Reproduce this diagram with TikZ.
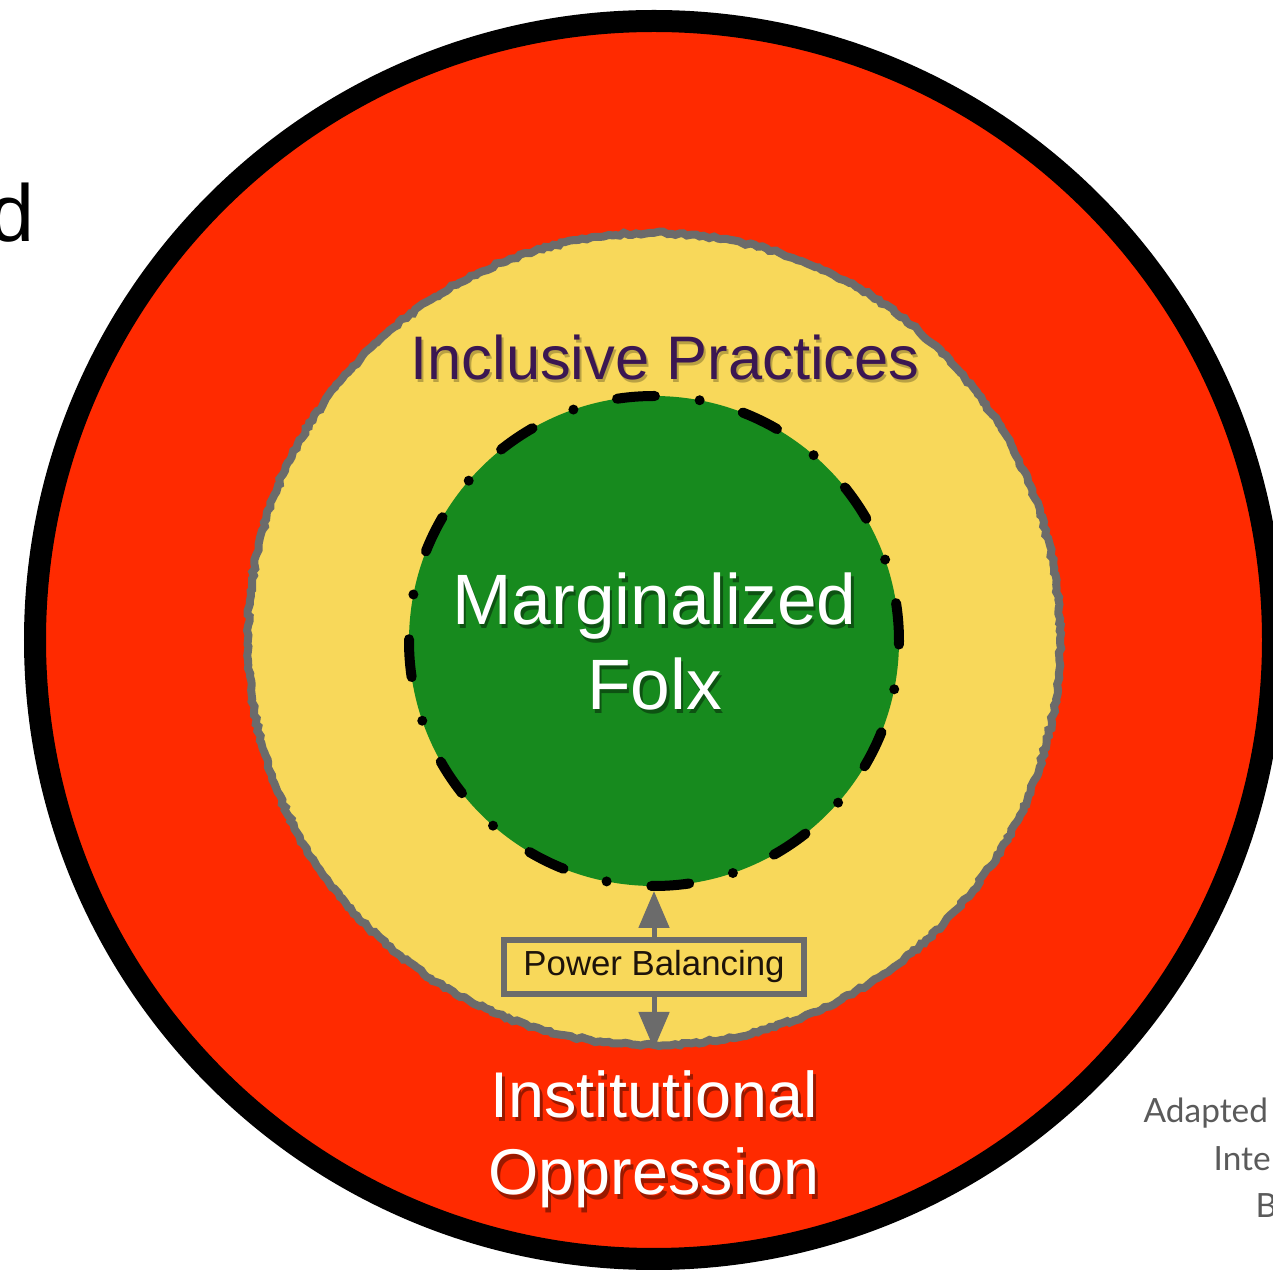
\documentclass[tikz,border=0pt]{standalone}
\usepackage{fontspec}
\setmainfont{Liberation Sans}
\newfontfamily\notefont{Lato}
\usetikzlibrary{arrows.meta,decorations.pathmorphing}

\definecolor{ringred}{HTML}{FF2A00}
\definecolor{ringyellow}{HTML}{F8D85A}
\definecolor{ringgreen}{HTML}{178A1E}
\definecolor{ringgrey}{HTML}{6B6B6B}
\definecolor{incpurple}{HTML}{3B1752}
\definecolor{notegrey}{HTML}{5A5A5A}

\tikzset{
	ringlabel/.style={anchor=base, inner sep=0},
	labelshadow/.style={anchor=base, inner sep=0, text=black, opacity=0.4},
	pbarrow/.style={draw=ringgrey, line width=0.5mm, -{Triangle[width=3mm,length=3.7mm]}},
}

\begin{document}
\begin{tikzpicture}
		%%%%% START %%%%%
		\useasboundingbox (0,0) rectangle (12.73,12.75);
		\clip (0,0) rectangle (12.73,12.75);
		
		% outer ring
		\draw[line width=2.2mm, fill=ringred] (6.54, 6.35) circle (6.19);
		
		% middle and inner discs
		\node[circle, minimum size=8.12cm, inner sep=0, fill=ringyellow, draw=ringgrey, line width=0.8mm,
			decorate, decoration={random steps, segment length=1.2pt, amplitude=0.4pt}] (incl) at (6.54, 6.36) {};
		\node[circle, minimum size=4.9cm, inner sep=0, fill=ringgreen, draw=black, line width=1mm, line cap=round,
			dash pattern=on 3.8mm off 4.5mm on 0mm off 4.5mm] (folx) at (6.54, 6.34) {};
		
		% labels
		\node[labelshadow, font=\fontsize{17.5}{21}\selectfont, opacity=0.25] (inclshadow) at (6.67, 8.92) {Inclusive Practices};
		\node[ringlabel, font=\fontsize{17.5}{21}\selectfont, text=incpurple] (incllabel) at (6.65, 8.95) {Inclusive Practices};
		
		\node[labelshadow, font=\fontsize{20.3}{24}\selectfont] (margshadow) at (6.57, 6.46) {Marginalized};
		\node[labelshadow, font=\fontsize{20.3}{24}\selectfont] (folxshadow) at (6.57, 5.61) {Folx};
		\node[ringlabel, font=\fontsize{20.3}{24}\selectfont, text=white] (marglabel) at (6.545, 6.50) {Marginalized};
		\node[ringlabel, font=\fontsize{20.3}{24}\selectfont, text=white] (folxlabel) at (6.545, 5.65) {Folx};
		
		\node[labelshadow, font=\fontsize{18.4}{22}\selectfont] (instshadow) at (6.57, 1.53) {Institutional};
		\node[labelshadow, font=\fontsize{18.4}{22}\selectfont] (oppshadow) at (6.57, 0.76) {Oppression};
		\node[ringlabel, font=\fontsize{18.4}{22}\selectfont, text=white] (instlabel) at (6.54, 1.57) {Institutional};
		\node[ringlabel, font=\fontsize{18.4}{22}\selectfont, text=white] (opplabel) at (6.54, 0.80) {Oppression};
		
		% power balancing box and its arrows
		\node[draw=ringgrey, line width=0.6mm, minimum width=3.0cm, minimum height=0.54cm, inner sep=0,
			font=\fontsize{9.9}{12}\selectfont, text=black!85!brown] (pb) at (6.54, 3.08) {Power Balancing};
		\draw[pbarrow] (pb.north) -- (folx.south);
		\draw[pbarrow] (pb.south) -- (incl.south);
		
		% cut-off text at the edges
		\node[font=\fontsize{23}{27}\selectfont, anchor=base east, inner sep=0] (dword) at (0.35, 10.33) {d};
		\node[font=\notefont\fontsize{9.5}{11}\selectfont, text=notegrey, anchor=base west, inner sep=0] (adapted) at (11.43, 1.52) {Adapted};
		\node[font=\notefont\fontsize{9.5}{11}\selectfont, text=notegrey, anchor=base west, inner sep=0] (inte) at (12.13, 1.05) {Inte};
		\node[font=\notefont\fontsize{9.5}{11}\selectfont, text=notegrey, anchor=base west, inner sep=0] (bline) at (12.55, 0.58) {B};
		
		%%%%% END %%%%%
	\end{tikzpicture}
\end{document}
